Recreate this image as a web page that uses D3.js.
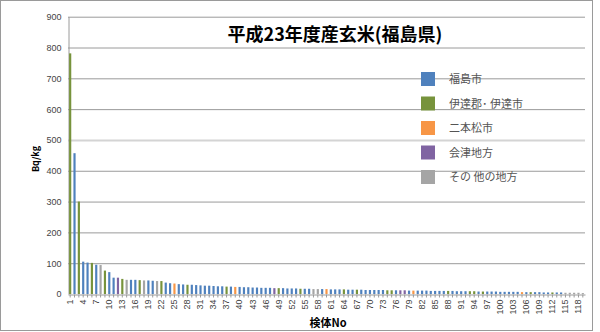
<!DOCTYPE html>
<html><head><meta charset="utf-8">
<script src="https://cdn.jsdelivr.net/npm/d3@7"></script>
<style>body{margin:0;background:#fff}svg{display:block}</style>
</head><body>
<script>
const values = [781,457,300,105,102,101,95,94,76,71,53,53,49,46,46,46,45,44,44,43,42,42,37,35,34,32,31,30,30,29,
28,27,27,26,25,25,24,24,23,23,22,22,21,21,20,20,20,19,19,19,18,18,18,17,17,17,16,16,16,16,
15,15,15,15,14,14,14,14,13,13,13,13,13,12,12,12,12,12,11,11,11,11,11,10,10,10,10,10,10,9,
9,9,9,9,8,8,8,8,8,7,7,7,7,7,6,6,6,6,6,5,5,5,5,5,4,4,4,4,3];
const dateIdx = [1,3,6,9,13,17,22,28,37,49,54,64,67,74,75,88,93,94,96,107,112];
const otherIdx = [8,14,18,21,57,58,115,116,117,118,119];
const aizuIdx = [12,48,77,78];
const nihonIdx = [25,39,60,80,105];
const regions = ["福島市","伊達郡･ 伊達市","二本松市","会津地方","その 他の地方"];
const regionColors = ["#4F81BD","#77933C","#F79646","#8064A2","#A5A5A5"];
const yTicks = [0,100,200,300,400,500,600,700,800,900];
const title = "平成23年度産玄米(福島県)";

const regionOf = i => dateIdx.includes(i)?1:nihonIdx.includes(i)?2:aizuIdx.includes(i)?3:otherIdx.includes(i)?4:0;
const data = values.map((v,k)=>({no:k+1,v,r:regionOf(k+1)}));

const W=600,H=332;
const svg=d3.select("body").append("svg").attr("width",W).attr("height",H)
  .style("font-family","'Noto Sans CJK JP','Noto Sans',sans-serif");
svg.append("rect").attr("x",0.5).attr("y",0.5).attr("width",592).attr("height",330)
  .attr("fill","#fff").attr("stroke","#9a9a9a");

const L=68,R=585,T=16.7,B=294;
const x=d3.scaleBand().domain(data.map(d=>d.no)).range([L,R]).paddingInner(0.5).paddingOuter(0.25);
const y=d3.scaleLinear().domain([0,900]).range([B,T]);

// grid
svg.append("g").selectAll("line").data(yTicks.slice(1)).join("line")
  .attr("x1",L).attr("x2",R).attr("y1",d=>y(d)+0.5).attr("y2",d=>y(d)+0.5)
  .attr("stroke",d=>d===500?"#d4d4d4":"#9a9a9a").attr("stroke-width",d=>d===500?2:1);

// y axis
const ya=svg.append("g").attr("transform",`translate(${L+0.5},0)`)
  .call(d3.axisLeft(y).tickValues(yTicks).tickSize(0).tickPadding(7));
ya.select(".domain").attr("stroke","#9a9a9a");
ya.selectAll("text").attr("font-size",9).attr("fill","#444").attr("font-family","Liberation Sans, Arial, sans-serif");

// bars
svg.append("g").selectAll("rect").data(data).join("rect")
  .attr("x",d=>x(d.no)).attr("width",x.bandwidth())
  .attr("y",d=>y(d.v)).attr("height",d=>B-y(d.v))
  .attr("fill",d=>regionColors[d.r]);

// x axis
const xa=svg.append("g").attr("transform",`translate(0,${B+0.5})`)
  .call(d3.axisBottom(x).tickSizeOuter(0).tickSizeInner(3).tickPadding(3)
    .tickFormat(d=>((d-1)%3===0)?d:""));
xa.select(".domain").attr("stroke","#9a9a9a");
xa.selectAll(".tick line").attr("stroke","#9a9a9a");
xa.selectAll("text").attr("font-size",9).attr("fill","#444")
  .attr("font-family","Liberation Sans, Arial, sans-serif")
  .attr("transform","rotate(-90)").attr("text-anchor","end")
  .attr("x",-5).attr("y",0).attr("dy","0.32em");

// title
svg.append("text").attr("x",335).attr("y",41).attr("text-anchor","middle")
  .attr("font-size",18).attr("font-weight","bold").attr("fill","#000").text(title);

// axis titles
svg.append("text").attr("transform","translate(39,159) rotate(-90)").attr("text-anchor","middle")
  .attr("font-size",9).attr("font-weight","bold").attr("fill","#000").text("Bq/kg");
svg.append("text").attr("x",328).attr("y",327).attr("text-anchor","middle")
  .attr("font-size",11).attr("font-weight","bold").attr("fill","#000").text("検体No");

// legend
const lg=svg.append("g").selectAll("g").data(regions).join("g")
  .attr("transform",(d,i)=>`translate(421,${72+i*24.5})`);
lg.append("rect").attr("width",14).attr("height",14).attr("fill",(d,i)=>regionColors[i]);
lg.append("text").attr("x",28).attr("y",11).attr("font-size",11).attr("fill","#555").text(d=>d);
</script>
</body></html>
